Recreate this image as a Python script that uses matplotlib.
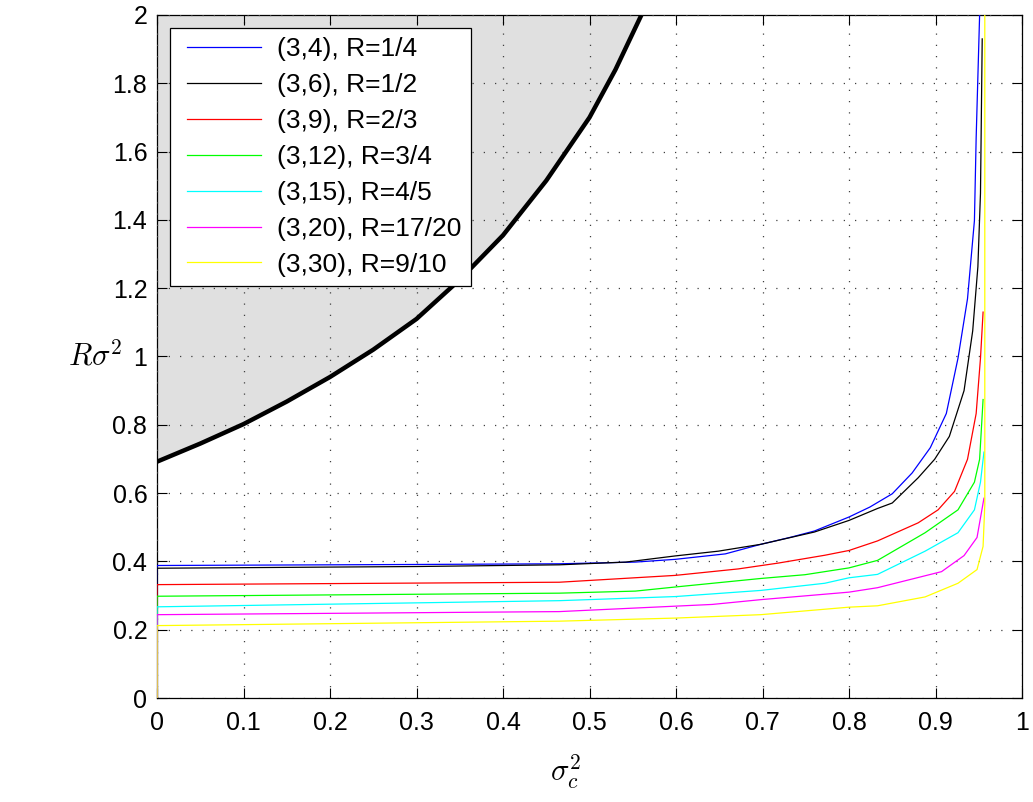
import matplotlib
matplotlib.use("Agg")
import matplotlib.pyplot as plt
from matplotlib.ticker import FuncFormatter, MultipleLocator
from matplotlib.legend_handler import HandlerLine2D
from matplotlib.lines import Line2D

plt.rcParams['font.family'] = ['Liberation Sans', 'DejaVu Sans']
plt.rcParams['mathtext.fontset'] = 'cm'

# Boundary of the shaded (infeasible) region
bound_x = [0.0, 0.05, 0.1, 0.15, 0.2, 0.25, 0.3, 0.35, 0.4, 0.45, 0.5, 0.53, 0.56]
bound_y = [0.692, 0.745, 0.802, 0.868, 0.94, 1.02, 1.11, 1.225, 1.355, 1.515, 1.70, 1.84, 2.0]

labels = ["(3,4), R=1/4", "(3,6), R=1/2", "(3,9), R=2/3", "(3,12), R=3/4",
          "(3,15), R=4/5", "(3,20), R=17/20", "(3,30), R=9/10"]
colors = ["#0000ff", "#000000", "#ff0000", "#00ff00", "#00ffff", "#ff00ff", "#ffff00"]

blue_x = [0, 0, 0.3, 0.465, 0.553, 0.599, 0.657, 0.698, 0.733, 0.760, 0.800, 0.824, 0.850, 0.873, 0.894, 0.9125, 0.926, 0.937, 0.945, 0.947, 0.951]
blue_y = [0, 0.388, 0.391, 0.393, 0.398, 0.406, 0.422, 0.450, 0.471, 0.489, 0.530, 0.559, 0.598, 0.659, 0.733, 0.833, 0.995, 1.169, 1.398, 1.64, 2.0]

black_x = [0, 0, 0.3, 0.465, 0.542, 0.599, 0.649, 0.698, 0.760, 0.800, 0.833, 0.850, 0.880, 0.899, 0.916, 0.933, 0.943, 0.949, 0.952, 0.954]
black_y = [0, 0.380, 0.385, 0.390, 0.398, 0.416, 0.430, 0.450, 0.486, 0.520, 0.555, 0.571, 0.645, 0.699, 0.766, 0.90, 1.075, 1.263, 1.478, 1.93]

red_x = [0, 0, 0.465, 0.599, 0.672, 0.718, 0.772, 0.800, 0.833, 0.880, 0.903, 0.922, 0.937, 0.947, 0.952, 0.955]
red_y = [0, 0.332, 0.339, 0.359, 0.378, 0.395, 0.418, 0.432, 0.460, 0.513, 0.551, 0.605, 0.699, 0.833, 0.995, 1.13]

green_x = [0, 0, 0.465, 0.553, 0.599, 0.698, 0.749, 0.800, 0.833, 0.888, 0.926, 0.945, 0.951, 0.955]
green_y = [0, 0.298, 0.307, 0.313, 0.325, 0.350, 0.361, 0.381, 0.403, 0.484, 0.551, 0.632, 0.699, 0.874]

cyan_x = [0, 0, 0.465, 0.599, 0.698, 0.772, 0.800, 0.833, 0.888, 0.926, 0.945, 0.952, 0.956]
cyan_y = [0, 0.267, 0.285, 0.297, 0.315, 0.336, 0.352, 0.362, 0.43, 0.484, 0.551, 0.632, 0.72]

magenta_x = [0, 0, 0.465, 0.642, 0.698, 0.800, 0.833, 0.907, 0.933, 0.948, 0.956]
magenta_y = [0, 0.244, 0.253, 0.274, 0.288, 0.31, 0.323, 0.37, 0.417, 0.47, 0.585]

yellow_x = [0, 0, 0.465, 0.599, 0.698, 0.800, 0.833, 0.888, 0.926, 0.948, 0.955, 0.957, 0.957]
yellow_y = [0, 0.212, 0.225, 0.234, 0.244, 0.266, 0.27, 0.296, 0.336, 0.376, 0.444, 0.565, 2.0]

series = [(blue_x, blue_y), (black_x, black_y), (red_x, red_y), (green_x, green_y),
          (cyan_x, cyan_y), (magenta_x, magenta_y), (yellow_x, yellow_y)]

fig = plt.figure(figsize=(10.33, 8.02), dpi=100)
ax = fig.add_axes([157/1033, 104/802, 865/1033, 683/802])

ax.fill_between(bound_x, bound_y, 2.0, color="#e0e0e0", lw=0, zorder=0)
ax.plot(bound_x, bound_y, color="black", lw=3.2, zorder=3, solid_capstyle='butt')

handles = []
for (xs, ys), c, lab in zip(series, colors, labels):
    h, = ax.plot(xs, ys, color=c, lw=0.9, label=lab, zorder=4)
    handles.append(h)

ax.set_xlim(0, 1)
ax.set_ylim(0, 2)
ax.xaxis.set_major_locator(MultipleLocator(0.1))
ax.yaxis.set_major_locator(MultipleLocator(0.2))
fmt = FuncFormatter(lambda v, p: "%g" % round(v, 2))
ax.xaxis.set_major_formatter(fmt)
ax.yaxis.set_major_formatter(fmt)
ax.tick_params(direction='in', length=7, width=0.8, labelsize=18, top=True, right=True)
ax.tick_params(axis='x', pad=9)
ax.tick_params(axis='y', pad=7)
ax.grid(True, color='0.25', linestyle=(0, (1, 8)), lw=0.9)
ax.set_axisbelow(False)
for s in ax.spines.values():
    s.set_linewidth(0.9)

leg = ax.legend(handles=handles, loc='upper left', fontsize=19, handlelength=3.1,
                labelspacing=0.45, borderaxespad=0.5, fancybox=False, framealpha=1,
                edgecolor='black', borderpad=0.35, handletextpad=0.6,
                handler_map={Line2D: HandlerLine2D(xpad=0.3)})
leg.get_frame().set_linewidth(0.9)
leg.set_zorder(10)

ax.set_ylabel(r"$R\sigma^2$", rotation=0, fontsize=22, va='center', ha='center')
ax.yaxis.set_label_coords(-0.072, 0.5)
ax.set_xlabel(r"$\sigma_c^2$", fontsize=22)
ax.xaxis.set_label_coords(0.472, -0.079)

fig.savefig("out.png", dpi=100)
